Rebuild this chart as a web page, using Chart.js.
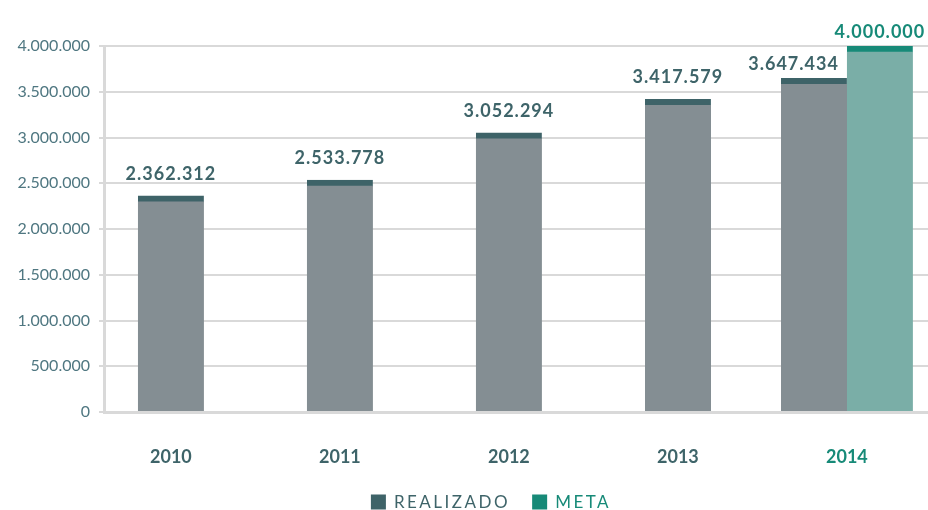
<!DOCTYPE html>
<html>
<head>
<meta charset="utf-8">
<script src="https://cdn.jsdelivr.net/npm/chart.js@4"></script>
<style>
  body { margin: 0; background: #fff; }
  #wrap { width: 928px; height: 510px; position: relative; }
</style>
</head>
<body>
<div id="wrap"><canvas id="metaChart"></canvas></div>
<script>
// Data
const years = [2010, 2011, 2012, 2013, 2014];
const realizado = [2362312, 2533778, 3052294, 3417579, 3647434];
const meta = [null, null, null, null, 4000000];
const yTicks = [0, 500000, 1000000, 1500000, 2000000, 2500000, 3000000, 3500000, 4000000];

// Colors
const colors = {
    text: '#3e6469',
    axisText: '#4f7781',
    teal: '#178a78',
    grayBar: '#848e93',
    grayCap: '#3e6368',
    tealBar: '#7aaea7',
    grid: '#d9d9d9'
};

const fmt = v => String(v).replace(/\B(?=(\d{3})+(?!\d))/g, '.');
const hasMeta = i => meta[i] !== null;

// Value labels above the bars
const valueLabels = {
    id: 'valueLabels',
    afterDatasetsDraw(chart) {
        const ctx = chart.ctx;
        ctx.save();
        ctx.font = 'bold 18px Lato';
        ctx.letterSpacing = '1px';
        ctx.textBaseline = 'alphabetic';
        chart.data.datasets.forEach((ds, di) => {
            const m = chart.getDatasetMeta(di);
            m.data.forEach((bar, i) => {
                const v = ds.data[i].y;
                if (v === null) return;
                const grouped = hasMeta(i);
                ctx.fillStyle = di === 1 ? colors.teal : colors.text;
                let x = bar.x;
                ctx.textAlign = 'center';
                if (grouped && di === 0) {
                    ctx.textAlign = 'right';
                    x = bar.x + bar.width / 2 - 8;
                }
                ctx.fillText(fmt(v), x, bar.y - (grouped ? 8 : 16));
            });
        });
        ctx.restore();
    }
};

// Legend drawn at the bottom with letter spacing
const bottomLegend = {
    id: 'bottomLegend',
    afterDraw(chart) {
        const ctx = chart.ctx;
        ctx.save();
        ctx.font = '17px Lato';
        ctx.letterSpacing = '2.5px';
        ctx.textBaseline = 'middle';
        ctx.textAlign = 'left';
        const items = [
            { label: 'REALIZADO', box: colors.grayCap, color: colors.text },
            { label: 'META', box: colors.teal, color: colors.teal }
        ];
        const gap = 22, box = 15, y = 502;
        const widths = items.map(it => box + 8 + ctx.measureText(it.label).width);
        let x = (chart.width - (widths[0] + widths[1] + gap)) / 2 + 27;
        items.forEach((it, k) => {
            ctx.fillStyle = it.box;
            ctx.fillRect(x, y - box / 2, box, box);
            ctx.fillStyle = it.color;
            ctx.fillText(it.label, x + box + 8, y + 1);
            x += widths[k] + gap;
        });
        ctx.restore();
    }
};

const ctx = document.getElementById('metaChart').getContext('2d');
new Chart(ctx, {
    type: 'bar',
    data: {
        datasets: [{
            label: 'REALIZADO',
            data: years.map((yr, i) => ({ x: yr, y: realizado[i] })),
            backgroundColor: colors.grayBar,
            borderColor: colors.grayCap,
            borderWidth: { top: 6, left: 0, right: 0, bottom: 0 },
            borderSkipped: false,
            skipNull: true
        }, {
            label: 'META',
            data: years.map((yr, i) => ({ x: yr, y: meta[i] })),
            backgroundColor: colors.tealBar,
            borderColor: colors.teal,
            borderWidth: { top: 6, left: 0, right: 0, bottom: 0 },
            borderSkipped: false,
            skipNull: true
        }]
    },
    options: {
        responsive: true,
        maintainAspectRatio: false,
        animation: false,
        barThickness: 66,
        layout: { padding: { top: 46, left: 0, right: 0, bottom: 0 } },
        plugins: {
            legend: { display: false },
            tooltip: { enabled: false }
        },
        scales: {
            x: {
                type: 'linear',
                offset: false,
                min: 2009.604,
                max: 2014.48,
                grid: { display: false },
                border: { display: true, color: colors.grid, width: 3 },
                afterBuildTicks: scale => { scale.ticks = years.map(v => ({ value: v })); },
                afterFit: scale => { scale.height = 98; },
                ticks: {
                    padding: 26,
                    font: { family: 'Lato', size: 18, weight: 'bold' },
                    color: c => hasMeta(years.indexOf(c.tick.value)) ? colors.teal : colors.text,
                    callback: v => String(v)
                }
            },
            y: {
                min: 0,
                max: 4000000,
                afterBuildTicks: scale => { scale.ticks = yTicks.map(v => ({ value: v })); },
                afterFit: scale => { scale.width = 104; },
                grid: { color: colors.grid, lineWidth: 2, tickLength: 5 },
                border: { color: colors.grid, width: 3 },
                ticks: {
                    padding: 9,
                    font: { family: 'Lato', size: 16 },
                    color: colors.axisText,
                    callback: v => fmt(v)
                }
            }
        }
    },
    plugins: [valueLabels, bottomLegend]
});
</script>
</body>
</html>
